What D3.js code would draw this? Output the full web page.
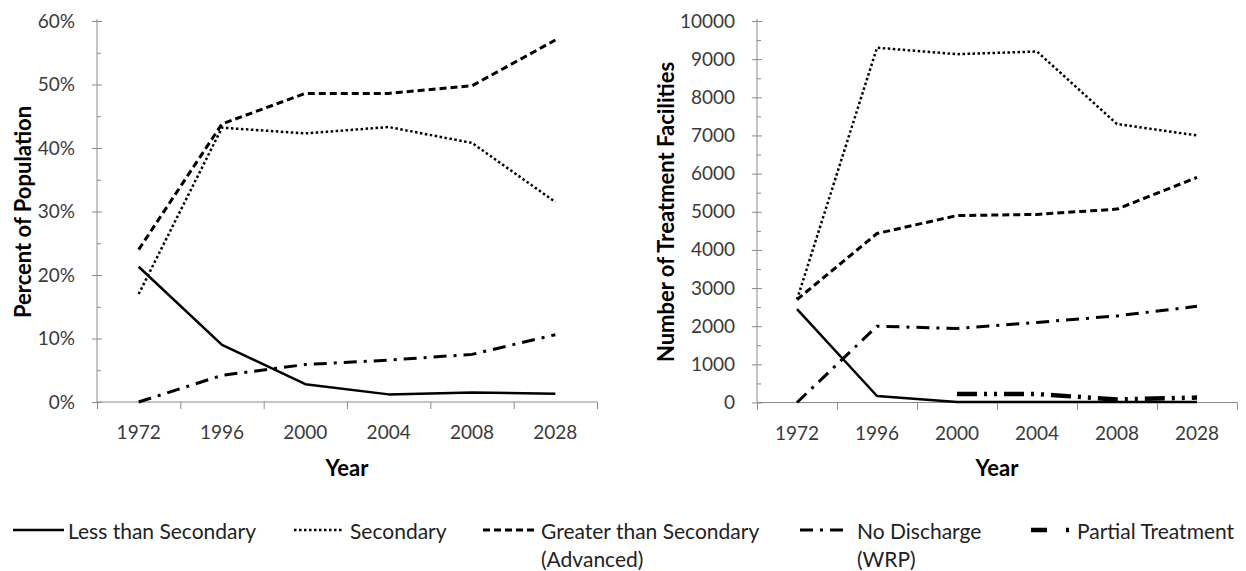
<!DOCTYPE html>
<html>
<head>
<meta charset="utf-8">
<script src="https://cdn.jsdelivr.net/npm/d3@7"></script>
<style>
  html, body { margin: 0; padding: 0; background: #fff; }
  svg { display: block; }
  text { font-family: Lato, "Open Sans", sans-serif; }
</style>
</head>
<body>
<svg id="chart" width="1246" height="571"></svg>
<script>
// ---------- data ----------
const years = ["1972", "1996", "2000", "2004", "2008", "2028"];

// Left panel: percent of population
const lessPct     = [21.3, 9.0, 2.8, 1.2, 1.5, 1.3];
const secPct      = [17.0, 43.2, 42.3, 43.3, 40.8, 31.5];
const greaterPct  = [24.0, 43.8, 48.6, 48.6, 49.8, 57.0];
const noDisPct    = [0.0, 4.2, 5.9, 6.6, 7.5, 10.6];
const partialPct  = [null, null, null, null, null, null];

// Right panel: number of treatment facilities
const lessN       = [2450, 170, 10, 10, 10, 10];
const secN        = [2700, 9300, 9130, 9200, 7300, 7000];
const greaterN    = [2700, 4430, 4900, 4930, 5070, 5900];
const noDisN      = [0, 2000, 1940, 2100, 2270, 2520];
const partialN    = [null, null, 220, 220, 80, 130];

const pctTicks = [0, 10, 20, 30, 40, 50, 60];
const numTicks = [0, 1000, 2000, 3000, 4000, 5000, 6000, 7000, 8000, 9000, 10000];

const seriesNames = ["Less than Secondary", "Secondary", "Greater than Secondary", "No Discharge", "Partial Treatment"];
const seriesSub   = ["", "", "(Advanced)", "(WRP)", ""];

// ---------- styles ----------
const styles = [
  { width: 2.5, dash: null },
  { width: 2.5, dash: "2.5,2.5" },
  { width: 3,   dash: "7,4" },
  { width: 3,   dash: "13,7,3,7" },
  { width: 4.5, dash: "20,7,3,7,3,7" }
];

const svg = d3.select("#chart");
const axisColor = "#8a8a8a";
const labelColor = "#3a3a3a";

function panel(opts) {
  const g = svg.append("g");
  const x = d3.scaleBand().domain(years).range([opts.x0, opts.x1]).padding(0);
  const xb = d3.scaleLinear().domain([0, years.length]).range([opts.x0, opts.x1]);
  const y = d3.scaleLinear().domain([0, opts.max]).range([opts.y0, opts.y1]);

  // minor ticks (inside, to the right)
  const minor = d3.range(opts.minorStep, opts.max, opts.minorStep).filter(v => !opts.ticks.includes(v));
  g.append("g").attr("transform", `translate(${opts.x0},0)`)
    .call(d3.axisRight(y).tickValues(minor).tickSize(4).tickFormat(""))
    .call(a => a.select(".domain").remove())
    .call(a => a.selectAll("line").attr("stroke", axisColor));

  // major ticks: crossing
  g.append("g").attr("transform", `translate(${opts.x0},0)`)
    .call(d3.axisRight(y).tickValues(opts.ticks).tickSize(5).tickFormat(""))
    .call(a => a.select(".domain").remove())
    .call(a => a.selectAll("line").attr("stroke", axisColor));
  const ya = g.append("g").attr("transform", `translate(${opts.x0},0)`)
    .call(d3.axisLeft(y).tickValues(opts.ticks).tickSize(5).tickPadding(17).tickFormat(opts.fmt));
  ya.select(".domain").attr("stroke", axisColor).attr("d", `M0,${opts.y0}V${opts.y1 - 2}`);
  ya.selectAll("line").attr("stroke", axisColor);
  ya.selectAll("text").attr("fill", labelColor).style("font-size", "19px").style("font-family", "Lato, sans-serif");

  // x axis ticks at band boundaries
  const xa = g.append("g").attr("transform", `translate(0,${opts.y0})`)
    .call(d3.axisBottom(xb).tickValues(d3.range(0, years.length + 1)).tickSize(7).tickFormat(""));
  xa.select(".domain").attr("stroke", axisColor).attr("d", `M${opts.x0},0H${opts.x1}`);
  xa.selectAll("line").attr("stroke", axisColor);
  // x labels centered in bands
  const xl = g.append("g").attr("transform", `translate(0,${opts.y0})`)
    .call(d3.axisBottom(x).tickSize(0).tickPadding(24));
  xl.select(".domain").remove();
  xl.selectAll("text").attr("fill", labelColor).style("font-size", "19px").style("font-family", "Lato, sans-serif");

  // lines
  const line = d3.line()
    .defined(d => d.v !== null)
    .x(d => x(d.k) + x.bandwidth() / 2)
    .y(d => y(d.v));
  opts.series.forEach((vals, i) => {
    const data = years.map((k, j) => ({ k, v: vals[j] }));
    if (data.every(d => d.v === null)) return;
    g.append("path")
      .datum(data)
      .attr("d", line)
      .attr("fill", "none")
      .attr("stroke", "#000")
      .attr("stroke-width", styles[i].width)
      .attr("stroke-dasharray", styles[i].dash)
      .attr("stroke-linejoin", "round");
  });

  // axis titles
  g.append("text")
    .attr("transform", `translate(${opts.titleX},${opts.titleY}) rotate(-90)`)
    .attr("text-anchor", "middle")
    .attr("dominant-baseline", "central")
    .style("font-size", "22px").style("font-weight", "bold")
    .text(opts.title);
  g.append("text")
    .attr("x", (opts.x0 + opts.x1) / 2)
    .attr("y", 467)
    .attr("text-anchor", "middle")
    .attr("dominant-baseline", "central")
    .style("font-size", "22px").style("font-weight", "bold")
    .text("Year");
}

panel({
  x0: 97, x1: 597, y0: 402, y1: 21, max: 60, ticks: pctTicks, minorStep: 5,
  fmt: d => d + "%",
  series: [lessPct, secPct, greaterPct, noDisPct, partialPct],
  title: "Percent of Population", titleX: 22, titleY: 212
});

panel({
  x0: 757, x1: 1237, y0: 402.5, y1: 21, max: 10000, ticks: numTicks, minorStep: 500,
  fmt: d => String(d),
  series: [lessN, secN, greaterN, noDisN, partialN],
  title: "Number of Treatment Facilities", titleX: 665, titleY: 212
});

// ---------- legend ----------
const legendItems = [
  { x1: 13,   x2: 64,   tx: 68 },
  { x1: 294,  x2: 343,  tx: 350 },
  { x1: 483,  x2: 537,  tx: 541 },
  { x1: 800,  x2: 848,  tx: 857 },
  { x1: 1031, x2: 1075, tx: 1077 }
];
const lg = svg.append("g");
seriesNames.forEach((name, i) => {
  const it = legendItems[i];
  lg.append("line")
    .attr("x1", it.x1).attr("x2", it.x2).attr("y1", 530).attr("y2", 530)
    .attr("stroke", "#000")
    .attr("stroke-width", styles[i].width)
    .attr("stroke-dasharray", i === 4 ? "16,19,3,20" : styles[i].dash);
  lg.append("text")
    .attr("x", it.tx).attr("y", 530)
    .attr("dominant-baseline", "central")
    .attr("fill", "#222")
    .style("font-size", "21px")
    .text(name);
  if (seriesSub[i]) {
    lg.append("text")
      .attr("x", it.tx).attr("y", 558)
      .attr("dominant-baseline", "central")
      .attr("fill", "#222")
      .style("font-size", "21px")
      .text(seriesSub[i]);
  }
});
</script>
</body>
</html>
